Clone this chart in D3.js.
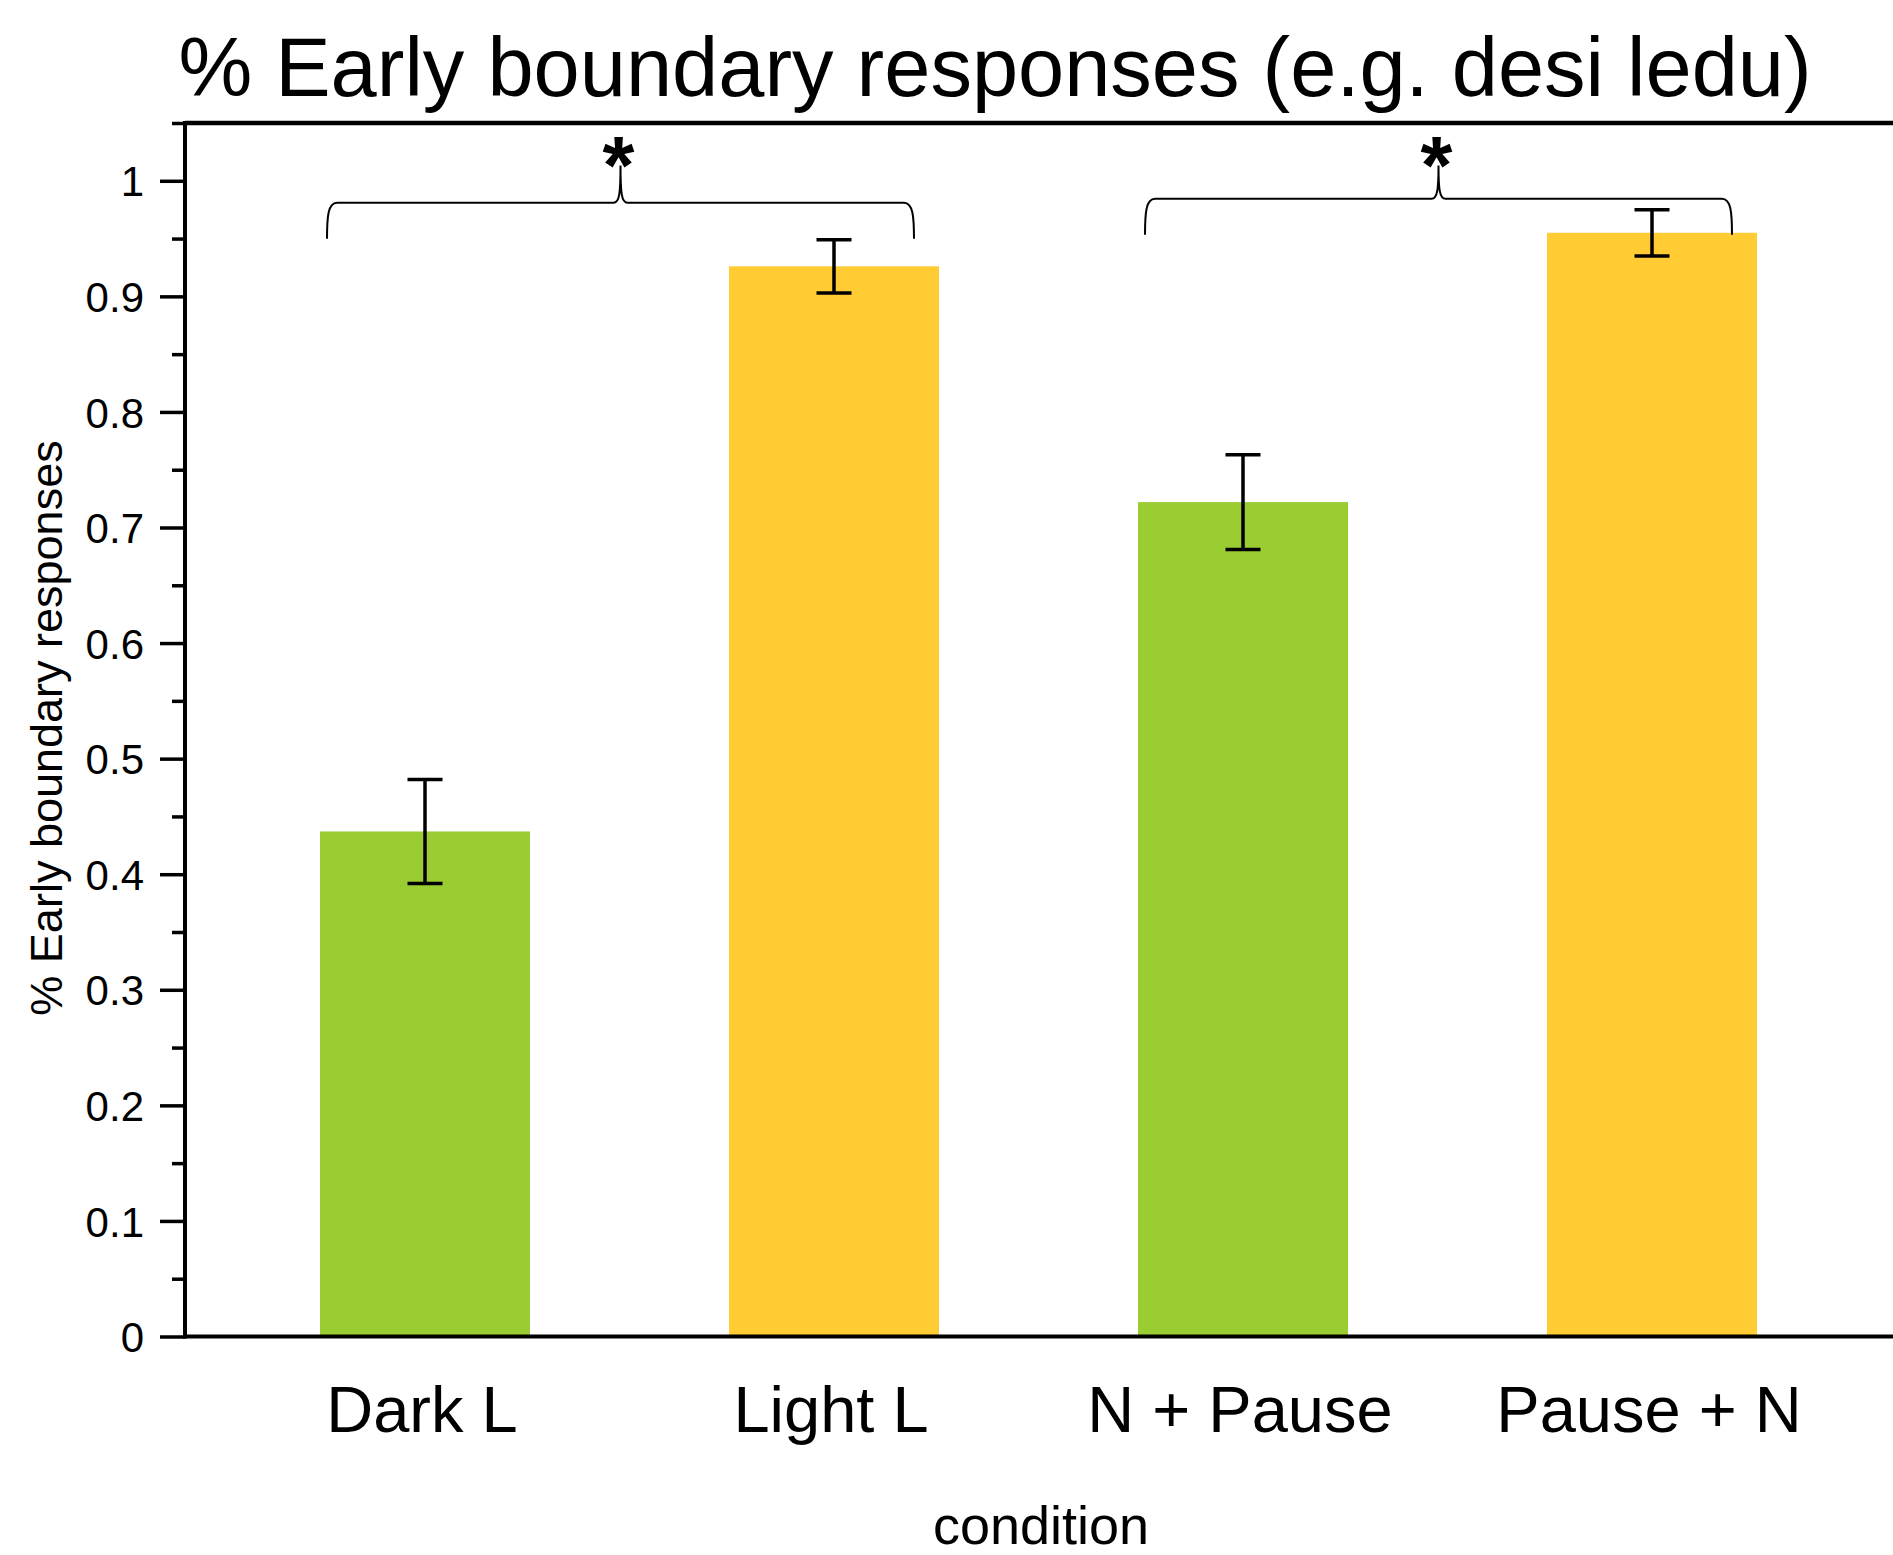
<!DOCTYPE html>
<html>
<head>
<meta charset="utf-8">
<script src="https://cdn.jsdelivr.net/npm/d3@7"></script>
<style>
  html, body { margin: 0; padding: 0; background: #fff; }
  svg { display: block; font-family: "Liberation Sans", Arial, Helvetica, sans-serif; }
</style>
</head>
<body>
<svg id="chart" width="1893" height="1555"></svg>
<script>
// data
const categories = ['Dark L', 'Light L', 'N + Pause', 'Pause + N'];
const means = [0.437, 0.926, 0.722, 0.955];
const errors = [0.045, 0.023, 0.041, 0.020];
const barColors = ['#9ACD32', '#FFCC33', '#9ACD32', '#FFCC33'];
const yMajorTicks = [0, 0.1, 0.2, 0.3, 0.4, 0.5, 0.6, 0.7, 0.8, 0.9, 1];
const yTickLabels = ['0', '0.1', '0.2', '0.3', '0.4', '0.5', '0.6', '0.7', '0.8', '0.9', '1'];
const yMinorTicks = [0.05, 0.15, 0.25, 0.35, 0.45, 0.55, 0.65, 0.75, 0.85, 0.95, 1.05];
const bracketFrom = ['Dark L', 'N + Pause'];
const bracketTo = ['Light L', 'Pause + N'];
const bracketLevel = [0.981, 0.9844];
const bracketLabel = ['*', '*'];

const titleText = '% Early boundary responses (e.g. desi ledu)';
const yTitle = '% Early boundary responses';
const xTitle = 'condition';

const svg = d3.select('#chart');
const W = +svg.attr('width');

const axisX = 185;
const x = d3.scaleBand()
    .domain(categories)
    .range([220.5, 1856.5])
    .paddingInner(0.4866)
    .paddingOuter(0.2433);

const y = d3.scaleLinear()
    .domain([0, 1.05])
    .range([1336.5, 123]);

// bars
svg.append('g')
    .selectAll('rect')
    .data(categories)
    .join('rect')
    .attr('x', d => x(d))
    .attr('y', (d, i) => y(means[i]))
    .attr('width', x.bandwidth())
    .attr('height', (d, i) => y(0) - y(means[i]))
    .attr('fill', (d, i) => barColors[i]);

// error bars
const capW = 35;
const eb = svg.append('g').attr('stroke', '#000').attr('stroke-width', 3.5);
categories.forEach((c, i) => {
    const cx = x(c) + x.bandwidth() / 2;
    const hi = y(means[i] + errors[i]);
    const lo = y(means[i] - errors[i]);
    eb.append('line').attr('x1', cx).attr('x2', cx).attr('y1', hi).attr('y2', lo);
    eb.append('line').attr('x1', cx - capW / 2).attr('x2', cx + capW / 2).attr('y1', hi).attr('y2', hi);
    eb.append('line').attr('x1', cx - capW / 2).attr('x2', cx + capW / 2).attr('y1', lo).attr('y2', lo);
});

// y axis, major ticks
const yAxis = svg.append('g')
    .attr('transform', `translate(${axisX},0)`)
    .call(d3.axisLeft(y)
        .tickValues(yMajorTicks)
        .tickFormat((d, i) => yTickLabels[i])
        .tickSize(25)
        .tickPadding(16));
yAxis.select('.domain').remove();
yAxis.selectAll('.tick line').attr('stroke', '#000').attr('stroke-width', 3.5);
yAxis.selectAll('.tick text')
    .attr('font-size', 42)
    .attr('font-family', '"Liberation Sans", Arial, sans-serif')
    .attr('fill', '#000')
    .attr('dy', '0.36em');

// y axis, minor ticks
const yMinor = svg.append('g')
    .attr('transform', `translate(${axisX},0)`)
    .call(d3.axisLeft(y).tickValues(yMinorTicks).tickFormat('').tickSize(13));
yMinor.select('.domain').remove();
yMinor.selectAll('.tick line').attr('stroke', '#000').attr('stroke-width', 3.5);

// frame lines: left axis, bottom axis, top line
svg.append('line')
    .attr('x1', axisX).attr('x2', axisX)
    .attr('y1', y(1.05) - 2).attr('y2', y(0) + 2)
    .attr('stroke', '#000').attr('stroke-width', 4);
svg.append('line')
    .attr('x1', axisX - 2).attr('x2', W)
    .attr('y1', y(0)).attr('y2', y(0))
    .attr('stroke', '#000').attr('stroke-width', 4);
svg.append('line')
    .attr('x1', axisX).attr('x2', W)
    .attr('y1', y(1.05)).attr('y2', y(1.05))
    .attr('stroke', '#000').attr('stroke-width', 4.5);

// x axis category labels
svg.append('g')
    .selectAll('text')
    .data(categories)
    .join('text')
    .attr('x', d => x(d) + x.bandwidth() / 2 - 3)
    .attr('y', 1432)
    .attr('text-anchor', 'middle')
    .attr('font-size', 65)
    .attr('fill', '#000')
    .text(d => d);

// axis titles
svg.append('text')
    .attr('x', 1041)
    .attr('y', 1544)
    .attr('text-anchor', 'middle')
    .attr('font-size', 54)
    .text(xTitle);

svg.append('text')
    .attr('transform', 'translate(62,728) rotate(-90)')
    .attr('text-anchor', 'middle')
    .attr('font-size', 45)
    .text(yTitle);

// chart title
svg.append('text')
    .attr('x', 995)
    .attr('y', 96)
    .attr('text-anchor', 'middle')
    .attr('font-size', 83)
    .text(titleText);

// significance braces
const drop = 36, tipY = 165.5;
bracketFrom.forEach((from, i) => {
    const x0 = x(from) + 7;
    const x1 = x(bracketTo[i]) + x.bandwidth() - 25;
    const xc = (x0 + x1) / 2;
    const yh = y(bracketLevel[i]);
    const yb = yh + drop;
    const p = d3.path();
    p.moveTo(x0, yb);
    p.bezierCurveTo(x0, yb - 22, x0 + 1, yh, x0 + 10, yh);
    p.lineTo(xc - 7, yh);
    p.bezierCurveTo(xc - 1, yh, xc, yh - 10, xc, tipY);
    p.bezierCurveTo(xc, yh - 10, xc + 1, yh, xc + 7, yh);
    p.lineTo(x1 - 10, yh);
    p.bezierCurveTo(x1 - 1, yh, x1, yb - 22, x1, yb);
    svg.append('path')
        .attr('d', p.toString())
        .attr('fill', 'none')
        .attr('stroke', '#000')
        .attr('stroke-width', 2);
    svg.append('text')
        .attr('x', xc - 2)
        .attr('y', 193)
        .attr('text-anchor', 'middle')
        .attr('font-size', 82)
        .attr('font-weight', 'bold')
        .text(bracketLabel[i]);
});
</script>
</body>
</html>
